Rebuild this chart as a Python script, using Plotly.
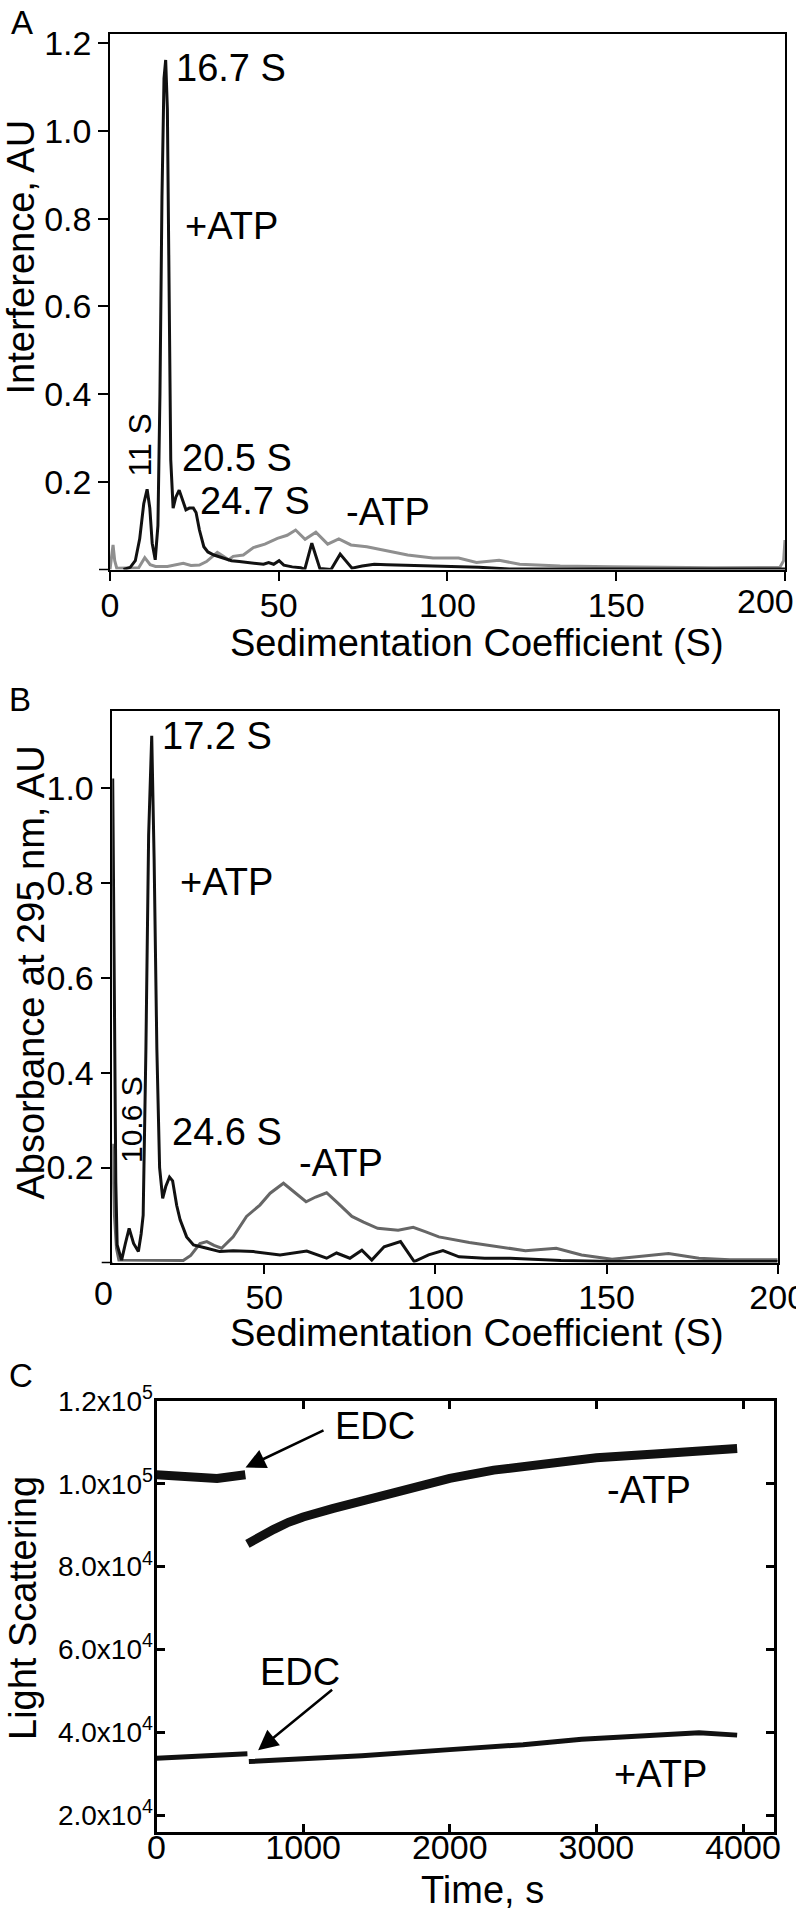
import plotly.graph_objects as go

W, H = 796, 1915
FONT = "Liberation Sans, Arial, Helvetica, sans-serif"

# ---------------- Panel A data (Interference) ----------------
A_S_plus = [4.0, 6.0, 7.5, 8.8, 10.0, 11.0, 11.8, 12.5, 13.4, 14.2, 14.8, 15.4, 16.0, 16.5, 17.0, 17.5,
            18.0, 18.7, 19.5, 20.5, 21.5, 22.5, 23.5, 24.7, 25.5, 26.5, 27.8, 29.0, 30.8, 33.8, 36.0,
            38.3, 42.9, 45.5, 47.0, 48.5, 50.1, 51.5, 54.0, 56.5, 57.7, 59.8, 62.2, 65.5, 68.2, 71.7,
            74.7, 78.3, 82.0, 90.0, 100.2, 109.3, 118.3, 140.0, 200.0]
A_v_plus = [0.0, 0.005, 0.02, 0.07, 0.15, 0.183, 0.14, 0.06, 0.022, 0.1, 0.4, 0.85, 1.12, 1.162, 1.05, 0.6,
            0.25, 0.14, 0.165, 0.181, 0.16, 0.136, 0.14, 0.14, 0.13, 0.09, 0.052, 0.04, 0.033, 0.025, 0.02,
            0.018, 0.015, 0.012, 0.016, 0.012, 0.02, 0.01, 0.006, 0.004, 0.0, 0.06, 0.002, 0.0, 0.035, 0.003,
            0.008, 0.012, 0.011, 0.009, 0.008, 0.005, 0.001, 0.001, 0.001]

A_S_minus = [0.0, 0.5, 0.9, 1.4, 2.0, 8.5, 10.3, 11.9, 13.5, 17.0, 19.5, 21.7, 24.0, 26.5, 28.6, 30.3,
             31.8, 33.6, 35.1, 36.5, 39.5, 42.5, 45.9, 49.6, 52.5, 55.0, 57.8, 61.0, 64.5, 67.8, 71.4,
             76.1, 81.5, 88.2, 95.7, 103.3, 108.6, 115.3, 121.4, 133.4, 148.5, 178.7, 198.5, 199.6, 200.0]
A_v_minus = [0.0, 0.03, 0.056, 0.02, 0.003, 0.004, 0.027, 0.011, 0.007, 0.007, 0.01, 0.014, 0.009, 0.01, 0.018, 0.03,
             0.039, 0.03, 0.022, 0.03, 0.033, 0.05, 0.058, 0.071, 0.078, 0.09, 0.069, 0.085, 0.058, 0.07, 0.056,
             0.052, 0.044, 0.033, 0.026, 0.026, 0.016, 0.021, 0.012, 0.008, 0.006, 0.004, 0.005, 0.02, 0.067]

A_yticks = [0.2, 0.4, 0.6, 0.8, 1.0, 1.2]
A_xticks = [0, 50, 100, 150, 200]
A_xticktext = ["0", "50", "100", "150", ""]   # "200" is drawn as a label below (shifted left like the original)

# ---------------- Panel B data (Absorbance 295 nm) ----------------
B_S_plus = [5.7, 6.3, 6.6, 7.0, 8.3, 9.4, 10.5, 11.8, 13.2, 14.0, 14.6, 15.4, 16.2, 17.1, 17.8, 18.6,
            19.4, 20.3, 21.2, 22.3, 23.2, 24.4, 25.4, 27.3, 29.3, 33.2, 37.0, 40.9, 46.8, 54.6, 62.4,
            68.2, 71.1, 75.0, 78.5, 81.4, 85.0, 89.8, 93.8, 98.0, 102.2, 106.9, 114.4, 121.8, 129.3,
            136.7, 151.6, 200.0]
B_v_plus = [1.02, 0.5, 0.17, 0.037, 0.005, 0.04, 0.072, 0.04, 0.023, 0.06, 0.10, 0.45, 0.9, 1.11, 0.85, 0.45,
            0.2, 0.135, 0.16, 0.18, 0.172, 0.12, 0.09, 0.054, 0.037, 0.030, 0.023, 0.025, 0.023, 0.016, 0.024,
            0.009, 0.02, 0.009, 0.026, 0.005, 0.033, 0.044, 0.002, 0.016, 0.025, 0.012, 0.009, 0.009, 0.007,
            0.004, 0.002, 0.002]

B_S_minus = [5.6, 6.2, 6.8, 7.5, 26.3, 28.5, 31.2, 33.2, 35.3, 37.5, 40.9, 44.8, 48.7, 51.7, 55.6, 58.5,
             62.2, 65.0, 68.2, 71.5, 75.6, 79.0, 83.1, 89.1, 93.5, 97.0, 101.0, 109.9, 118.9, 126.3, 135.3,
             142.7, 151.6, 160.6, 168.1, 177.0, 186.0, 200.0]
B_v_minus = [0.25, 0.1, 0.03, 0.005, 0.004, 0.015, 0.04, 0.044, 0.036, 0.03, 0.054, 0.097, 0.121, 0.146, 0.167, 0.15,
             0.128, 0.138, 0.147, 0.125, 0.097, 0.085, 0.072, 0.068, 0.074, 0.065, 0.054, 0.042, 0.033, 0.025, 0.03,
             0.016, 0.007, 0.014, 0.019, 0.009, 0.006, 0.006]

B_yticks = [0.2, 0.4, 0.6, 0.8, 1.0]
B_xticks = [50, 100, 150, 200]

# ---------------- Panel C data (Light scattering) ----------------
C_t_minus_pre = [0, 186, 413, 606]
C_v_minus_pre = [102200, 101850, 101300, 102200]
C_t_minus_post = [620, 700, 800, 900, 1000, 1200, 1400, 1600, 1800, 2000, 2300, 2600, 3000, 3400, 3700, 3960]
C_v_minus_post = [85500, 87200, 89000, 90700, 92000, 94000, 95800, 97500, 99000, 101300, 103300, 104800,
                  106300, 107200, 107800, 108500]
C_t_plus_pre = [0, 300, 620]
C_v_plus_pre = [33700, 34200, 34800]
C_t_plus_post = [630, 1000, 1400, 2000, 2500, 2900, 3200, 3500, 3700, 3960]
C_v_plus_post = [32900, 33600, 34300, 35800, 37000, 38300, 38800, 39500, 39900, 39300]

C_yticks = [20000, 40000, 60000, 80000, 100000, 120000]
C_yticktext = ["2.0x10<sup>4</sup>", "4.0x10<sup>4</sup>", "6.0x10<sup>4</sup>",
               "8.0x10<sup>4</sup>", "1.0x10<sup>5</sup>", "1.2x10<sup>5</sup>"]
C_xticks = [0, 1000, 2000, 3000, 4000]
EDC_t = [607, 693]
EDC_v = [103930, 35660]


def px(x):
    return x / W


def py(y):
    return 1 - y / H


fig = go.Figure()
BLACK = "#111111"
GRAY_A = "#8f8f8f"
GRAY_B = "#666666"

fig.add_trace(go.Scatter(x=A_S_minus, y=A_v_minus, mode="lines", line=dict(color=GRAY_A, width=3),
                         xaxis="x", yaxis="y"))
fig.add_trace(go.Scatter(x=A_S_plus, y=A_v_plus, mode="lines", line=dict(color=BLACK, width=3),
                         xaxis="x", yaxis="y"))
fig.add_trace(go.Scatter(x=B_S_minus, y=B_v_minus, mode="lines", line=dict(color=GRAY_B, width=3),
                         xaxis="x2", yaxis="y2"))
fig.add_trace(go.Scatter(x=B_S_plus, y=B_v_plus, mode="lines", line=dict(color=BLACK, width=3),
                         xaxis="x2", yaxis="y2"))
for t, v, w in [(C_t_minus_pre, C_v_minus_pre, 9), (C_t_minus_post, C_v_minus_post, 9),
                (C_t_plus_pre, C_v_plus_pre, 5), (C_t_plus_post, C_v_plus_post, 5)]:
    fig.add_trace(go.Scatter(x=t, y=v, mode="lines", line=dict(color=BLACK, width=w),
                             xaxis="x3", yaxis="y3"))

thin_axis = dict(showline=True, linecolor="black", linewidth=1.5, mirror=True, ticks="outside",
                 ticklen=10, tickwidth=1.5, tickcolor="black", showgrid=False, zeroline=False,
                 automargin=False, ticklabeloverflow="allow",
                 tickfont=dict(family=FONT, size=34, color="black"))
thick_axis = dict(showline=True, linecolor="black", linewidth=3, mirror="allticks", ticks="inside",
                  ticklen=8, tickwidth=2.5, tickcolor="black", showgrid=False, zeroline=False,
                  automargin=False, ticklabeloverflow="allow")

fig.update_layout(
    width=W, height=H, margin=dict(l=0, r=0, t=0, b=0),
    paper_bgcolor="white", plot_bgcolor="white", showlegend=False,
    font=dict(family=FONT, color="black"),
    xaxis=dict(thin_axis, domain=[px(110), px(785)], range=[0, 200.01], tickvals=A_xticks,
               ticktext=A_xticktext, ticklabelstandoff=-5, anchor="y"),
    yaxis=dict(thin_axis, domain=[py(569.5), py(34)], range=[0, 1.2212], tickvals=A_yticks,
               tickformat=".1f", anchor="x"),
    xaxis2=dict(thin_axis, domain=[px(112.3), px(777.7)], range=[5.58, 200.01], tickvals=B_xticks,
                ticklabelstandoff=-6, anchor="y2"),
    yaxis2=dict(thin_axis, domain=[py(1262.5), py(711)], range=[0, 1.162], tickvals=B_yticks,
                tickformat=".1f", anchor="x2"),
    xaxis3=dict(thick_axis, domain=[px(156.5), px(773.5)], range=[0, 4208], tickvals=C_xticks,
                ticklabelstandoff=-17, tickfont=dict(family=FONT, size=34, color="black"), anchor="y3"),
    yaxis3=dict(thick_axis, domain=[py(1832.3), py(1401)], range=[15830, 120000], tickvals=C_yticks,
                ticktext=C_yticktext, ticklabelstandoff=-5,
                tickfont=dict(family=FONT, size=28, color="black"), anchor="x3"),
)

# left extensions of the x axis lines (panels A, B)
for x0, x1, yy in [(99, 110, 569.5), (101.7, 112.3, 1262.5)]:
    fig.add_shape(type="line", xref="paper", yref="paper", x0=px(x0), x1=px(x1), y0=py(yy), y1=py(yy),
                  line=dict(color="black", width=1.5))


def label(text, x, y, size=38, angle=0):
    fig.add_annotation(text=text, x=px(x), y=py(y), xref="paper", yref="paper", showarrow=False,
                       xanchor="center", yanchor="middle", textangle=angle,
                       font=dict(family=FONT, size=size, color="black"))


# panel letters
label("A", 21.5, 22.5, 33)
label("B", 20.0, 699, 33)
label("C", 20.5, 1375, 33)

# axis titles
label("Interference, AU", 21, 257.5, 38, -90)
label("Sedimentation Coefficient (S)", 476.5, 643, 38)
label("Absorbance at 295 nm, AU", 30, 972.5, 38, -90)
label("Sedimentation Coefficient (S)", 476.5, 1333, 38)
label("Light Scattering", 23, 1608, 38, -90)
label("Time, s", 482, 1890, 38)

# edge tick labels drawn as text
label("0", 103.5, 1292.5, 34)      # panel B: axis starts just right of 0
label("200", 765, 601, 34)         # panel A: clipped at the right edge like the original

# panel A annotations
label("16.7 S", 231, 67.5)
label("+ATP", 231.5, 226.5)
label("11 S", 139.5, 445, 32, -90)
label("20.5 S", 237, 457.5)
label("24.7 S", 255, 501)
label("-ATP", 388, 512)

# panel B annotations
label("17.2 S", 217.5, 735.5)
label("+ATP", 226, 882)
label("10.6 S", 131, 1120, 30, -90)
label("24.6 S", 227, 1132)
label("-ATP", 341, 1163)

# panel C annotations
label("EDC", 375, 1426)
label("-ATP", 648.5, 1490)
label("EDC", 299.5, 1671.5)
label("+ATP", 660, 1773.5)

for t, v, ax, ay in [(EDC_t[0], EDC_v[0], 80, -38), (EDC_t[1], EDC_v[1], 76, -62)]:
    fig.add_annotation(x=t, y=v, xref="x3", yref="y3", text=" ", showarrow=True, ax=ax, ay=ay,
                       arrowhead=2, arrowsize=1.6, arrowwidth=2.5, arrowcolor="black",
                       standoff=0, startstandoff=0, font=dict(size=2))

fig.write_html("out.html", config={"displayModeBar": False},
               post_script="document.body.style.margin='0';")
